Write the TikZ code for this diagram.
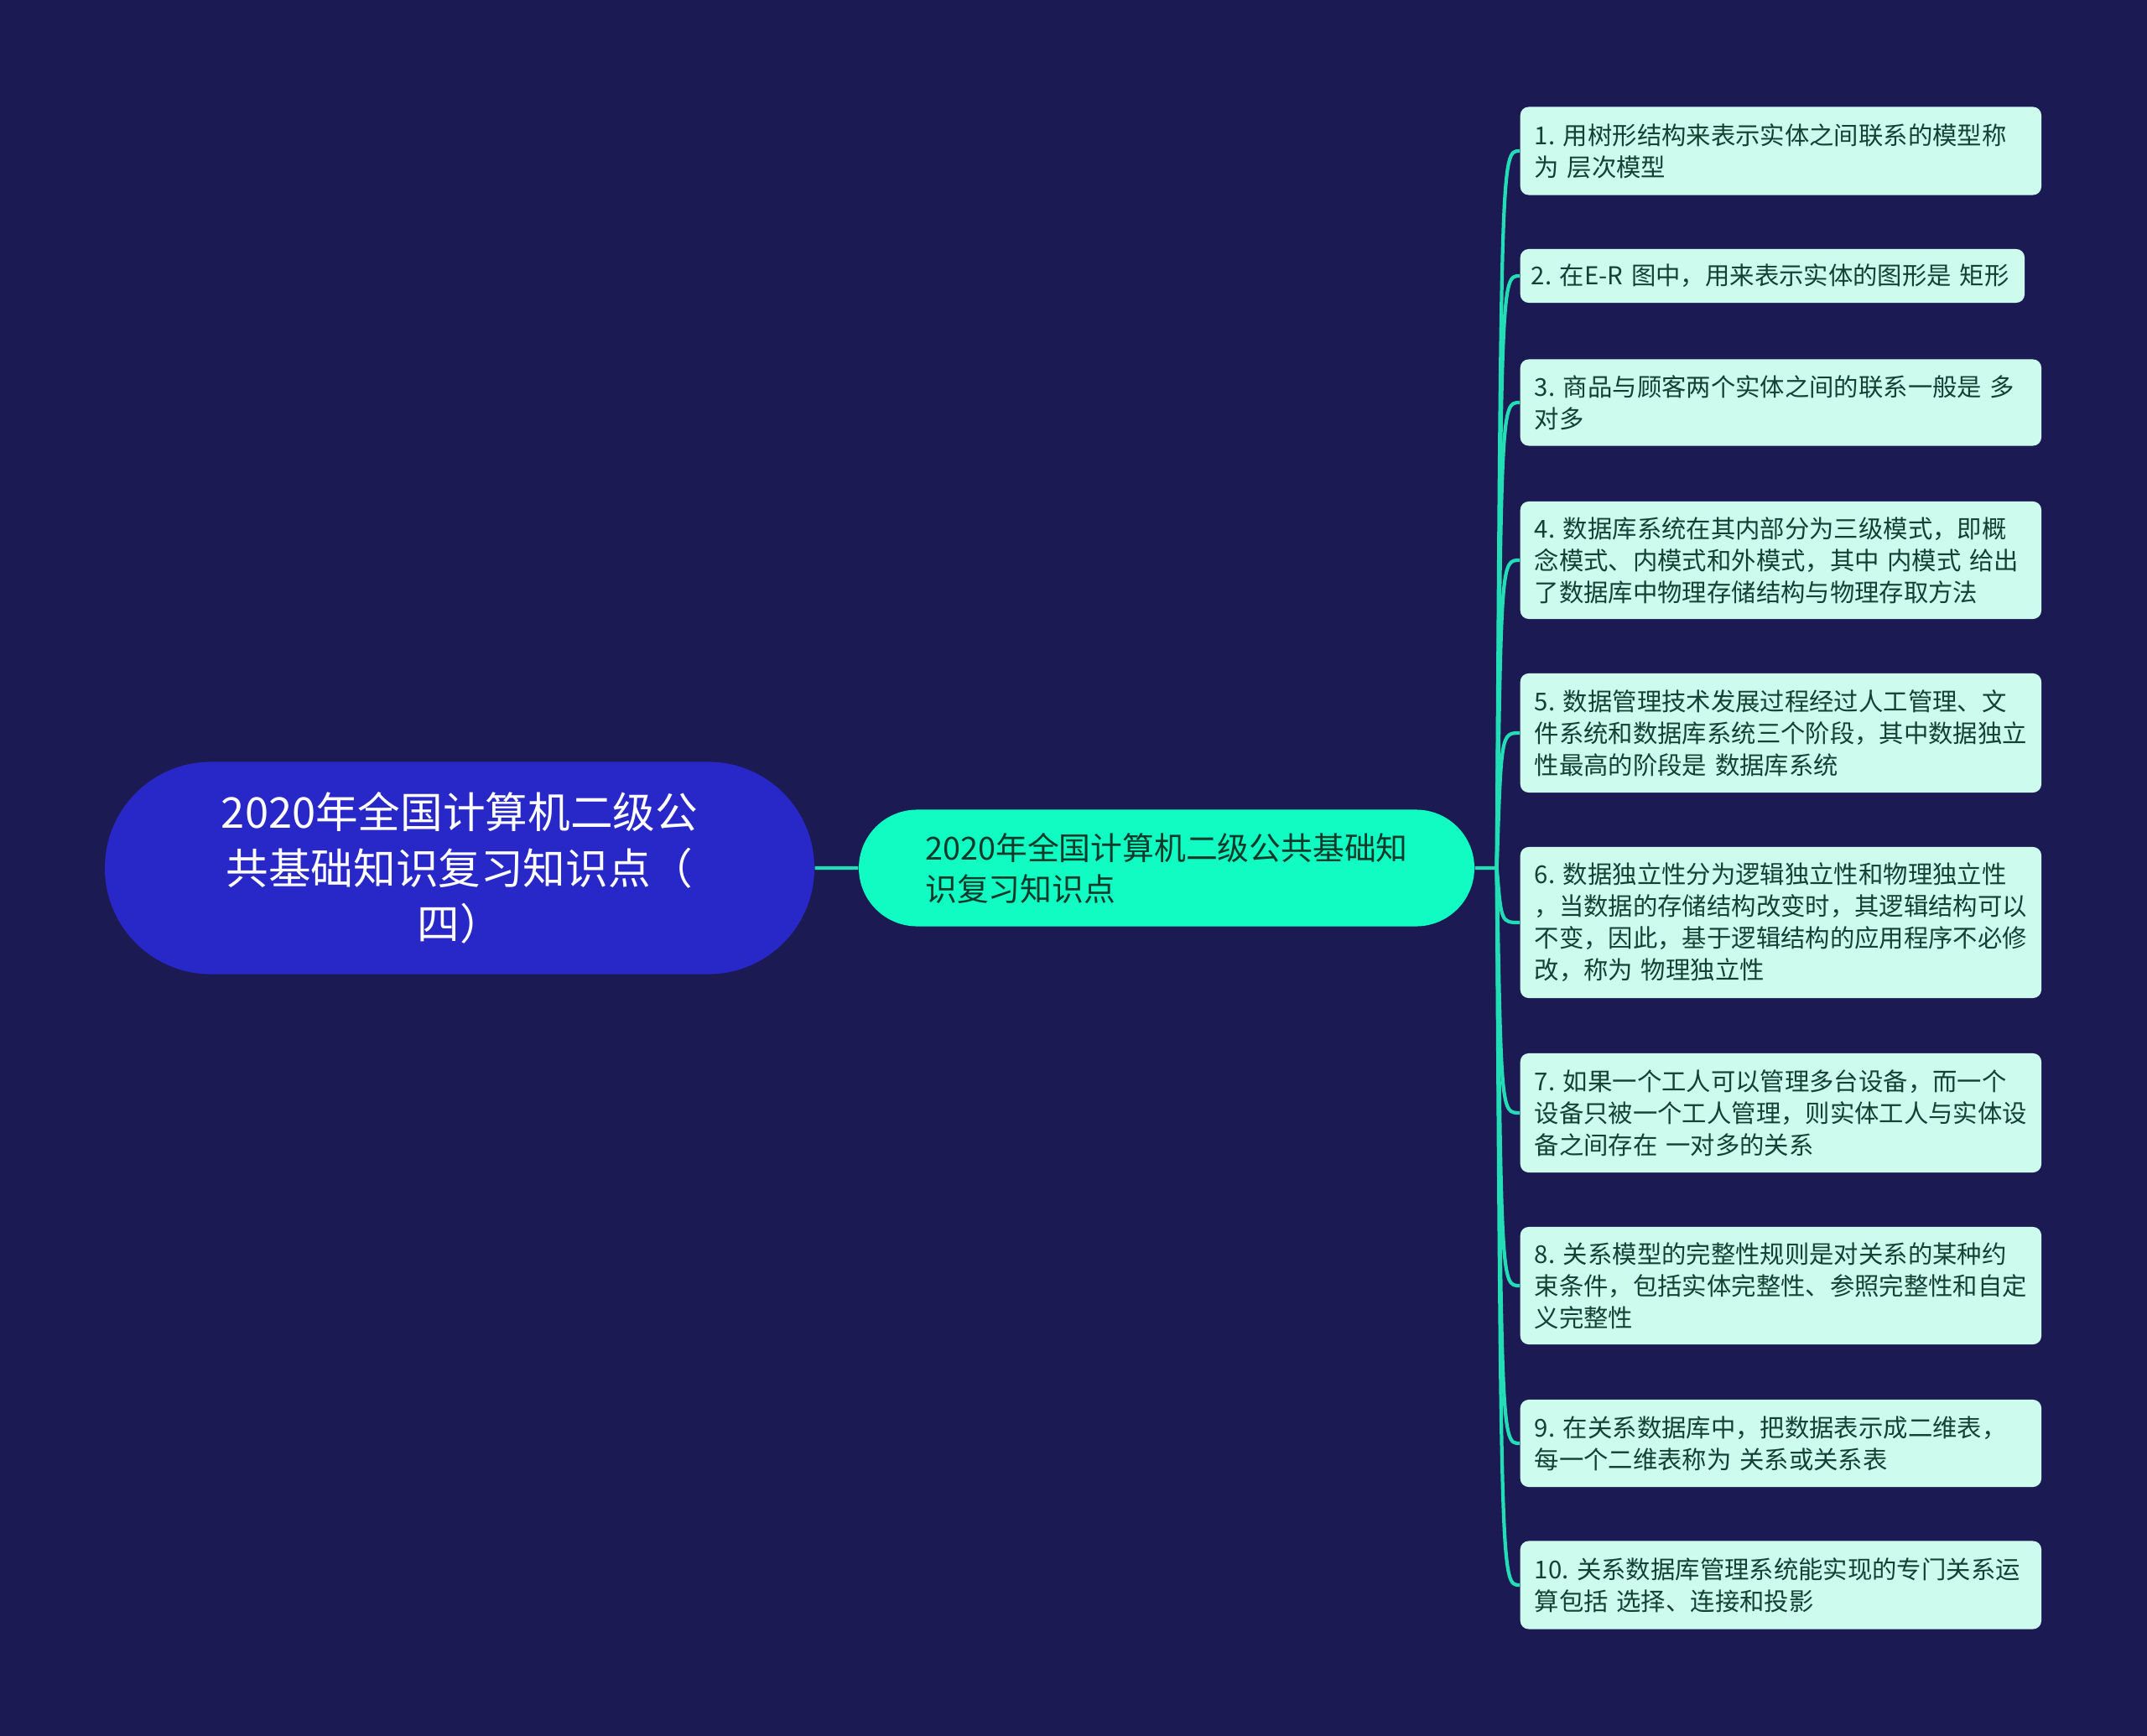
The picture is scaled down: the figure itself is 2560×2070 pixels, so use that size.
\documentclass[tikz,border=0pt]{standalone}
\usepackage{fontspec}
\setmainfont{Noto Sans CJK SC}
\usetikzlibrary{shapes.misc}
\definecolor{bgnavy}{HTML}{1B1A52}
\definecolor{rootblue}{HTML}{2828C8}
\definecolor{subaqua}{HTML}{10FCC2}
\definecolor{linkteal}{HTML}{22DDB6}
\definecolor{leafmint}{HTML}{CDFCEF}
\definecolor{leaftext}{HTML}{134232}
\definecolor{subtext}{HTML}{0E3A2A}
\begin{document}
\begin{tikzpicture}[x=0.01cm,y=-0.01cm,
 rootnode/.style={shape=rounded rectangle,fill=rootblue,text=white,minimum width=8.69cm,minimum height=2.53cm,align=center,font=\fontsize{14.4pt}{19pt}\selectfont},
 subnode/.style={shape=rounded rectangle,fill=subaqua,text=subtext,minimum width=7.57cm,minimum height=1.39cm,align=left,font=\fontsize{10.75pt}{13.9pt}\selectfont},
 leafnode/.style={shape=rectangle,rounded corners=0.1cm,fill=leafmint,text=leaftext,anchor=west,inner xsep=0.17cm,text width=5.87cm,align=left,font=\fontsize{8.35pt}{10.8pt}\selectfont},
 link/.style={draw=linkteal,line width=1.2pt}]
 \fill[bgnavy] (0,0) rectangle (2560,2070);
 \node (root) at (548,1035) [rootnode] {2020年全国计算机二级公\\共基础知识复习知识点（\\四）};
 \node (sub) at (1391,1035) [subnode] {2020年全国计算机二级公共基础知\\识复习知识点};
 \coordinate (fork) at ([xshift=0.26cm]sub.east);
 \node (leaf 1) at (1812,180) [leafnode,minimum height=1.05cm] {1.~用树形结构来表示实体之间联系的模型称\\为~层次模型};
 \node (leaf 2) at (1812,329) [leafnode,minimum height=0.64cm,text width=5.75cm,inner xsep=0.13cm] {2.~在E-R~图中，用来表示实体的图形是~矩形};
 \node (leaf 3) at (1812,480) [leafnode,minimum height=1.03cm] {3.~商品与顾客两个实体之间的联系一般是~多\\对多};
 \node (leaf 4) at (1812,668) [leafnode,minimum height=1.40cm] {4.~数据库系统在其内部分为三级模式，即概\\念模式、内模式和外模式，其中~内模式~给出\\了数据库中物理存储结构与物理存取方法};
 \node (leaf 5) at (1812,874) [leafnode,minimum height=1.42cm] {5.~数据管理技术发展过程经过人工管理、文\\件系统和数据库系统三个阶段，其中数据独立\\性最高的阶段是~数据库系统};
 \node (leaf 6) at (1812,1100) [leafnode,minimum height=1.80cm] {6.~数据独立性分为逻辑独立性和物理独立性\\，当数据的存储结构改变时，其逻辑结构可以\\不变，因此，基于逻辑结构的应用程序不必修\\改，称为~物理独立性};
 \node (leaf 7) at (1812,1327) [leafnode,minimum height=1.42cm] {7.~如果一个工人可以管理多台设备，而一个\\设备只被一个工人管理，则实体工人与实体设\\备之间存在~一对多的关系};
 \node (leaf 8) at (1812,1533) [leafnode,minimum height=1.40cm] {8.~关系模型的完整性规则是对关系的某种约\\束条件，包括实体完整性、参照完整性和自定\\义完整性};
 \node (leaf 9) at (1812,1721) [leafnode,minimum height=1.04cm] {9.~在关系数据库中，把数据表示成二维表，\\每一个二维表称为~关系或关系表};
 \node (leaf 10) at (1812,1890) [leafnode,minimum height=1.05cm] {10.~关系数据库管理系统能实现的专门关系运\\算包括~选择、连接和投影};
 \draw[link] (root) -- (sub);
 \draw[link] (sub) -- (fork);
 \draw[link] (fork) .. controls ([xshift=-0.22cm]leaf 1.west) .. (leaf 1.west);
 \draw[link] (fork) .. controls ([xshift=-0.22cm]leaf 2.west) .. (leaf 2.west);
 \draw[link] (fork) .. controls ([xshift=-0.22cm]leaf 3.west) .. (leaf 3.west);
 \draw[link] (fork) .. controls ([xshift=-0.22cm]leaf 4.west) .. (leaf 4.west);
 \draw[link] (fork) .. controls ([xshift=-0.22cm]leaf 5.west) .. (leaf 5.west);
 \draw[link] (fork) .. controls ([xshift=-0.22cm]leaf 6.west) .. (leaf 6.west);
 \draw[link] (fork) .. controls ([xshift=-0.22cm]leaf 7.west) .. (leaf 7.west);
 \draw[link] (fork) .. controls ([xshift=-0.22cm]leaf 8.west) .. (leaf 8.west);
 \draw[link] (fork) .. controls ([xshift=-0.22cm]leaf 9.west) .. (leaf 9.west);
 \draw[link] (fork) .. controls ([xshift=-0.22cm]leaf 10.west) .. (leaf 10.west);
\end{tikzpicture}
\end{document}
